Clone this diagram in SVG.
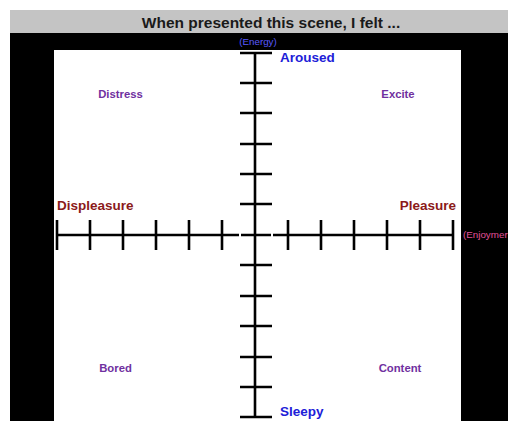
<svg xmlns="http://www.w3.org/2000/svg" width="508" height="421" viewBox="0 0 508 421">
<style>
.ax{stroke:#000;stroke-width:2.6;fill:none}
.pole{font-family:"Liberation Sans",Arial,sans-serif;font-weight:bold;font-size:13.5px}
.blue{fill:#2020d8}
.red{fill:#8b1a1a}
.quad{font-family:"Liberation Sans",Arial,sans-serif;font-weight:bold;font-size:11.3px;fill:#7030a0;text-anchor:middle}
.small{font-family:"Liberation Sans",Arial,sans-serif;font-size:9.8px}
</style>
<rect width="508" height="421" fill="#ffffff"/>
<g id="title">
<rect x="10" y="10" width="498" height="23" fill="#c4c4c4"/>
<text x="271" y="28" text-anchor="middle" font-family="'Liberation Sans',Arial,sans-serif" font-weight="bold" font-size="15.5" fill="#1a1a1a">When presented this scene, I felt ...</text>
</g>
<g id="frame">
<rect x="10" y="33" width="498" height="388" fill="#000000"/>
<rect x="54" y="50" width="407" height="371" fill="#ffffff"/>
</g>
<g id="connectors">
<path class="ax" d="M255,52V418"/>
<path class="ax" d="M57,235H239M241,235H271M273,235H454"/>
<path class="ax" d="M240,53H272M240,83H272M240,113H272M240,144H272M240,174H272M240,204H272M240,265H272M240,296H272M240,326H272M240,357H272M240,387H272M240,417H272"/>
<path class="ax" d="M57,220V250M90,220V250M123,220V250M156,220V250M189,220V250M222,220V250M288,220V250M321,220V250M354,220V250M387,220V250M420,220V250M453,220V250"/>
</g>
<g id="energy"><text class="small" x="258" y="45" text-anchor="middle" fill="#5a5aff">(Energy)</text></g>
<g id="enjoyment"><text class="small" x="463" y="238" fill="#e0509a">(Enjoymer</text></g>
<g id="aroused"><text class="pole blue" x="280" y="62">Aroused</text></g>
<g id="sleepy"><text class="pole blue" x="280" y="416">Sleepy</text></g>
<g id="displeasure"><text class="pole red" x="57" y="210">Displeasure</text></g>
<g id="pleasure"><text class="pole red" x="456" y="210" text-anchor="end">Pleasure</text></g>
<g id="distress"><text class="quad" x="120.5" y="98">Distress</text></g>
<g id="excite"><text class="quad" x="398" y="98">Excite</text></g>
<g id="bored"><text class="quad" x="115.5" y="372">Bored</text></g>
<g id="content"><text class="quad" x="400" y="372">Content</text></g>
</svg>
